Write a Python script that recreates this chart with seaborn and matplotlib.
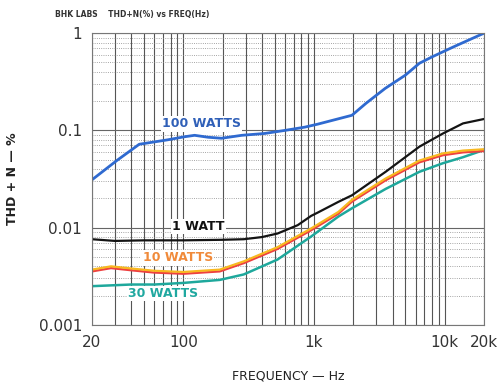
import matplotlib
matplotlib.use('Agg')
import matplotlib.pyplot as plt
import matplotlib.patheffects as pe
from matplotlib.ticker import FixedLocator, FixedFormatter, LogLocator, NullFormatter
import seaborn as sns
import pandas as pd

# THD+N vs frequency
freq_100w = [20, 31, 46, 76, 102, 122, 155, 196, 280, 420, 600, 850, 1070, 1950, 2500, 3500, 5000, 6400, 8000, 11600, 20000]
thd_100w = [0.031, 0.049, 0.072, 0.080, 0.086, 0.089, 0.085, 0.083, 0.089, 0.093, 0.100, 0.108, 0.116, 0.143, 0.19, 0.27, 0.37, 0.49, 0.57, 0.72, 1.0]

freq_1w = [20, 30, 50, 100, 200, 290, 400, 526, 750, 950, 1070, 1535, 1950, 3530, 6400, 9700, 13800, 20000]
thd_1w = [0.0076, 0.0073, 0.0074, 0.0074, 0.0075, 0.0076, 0.0080, 0.0087, 0.0106, 0.0132, 0.0143, 0.0184, 0.0215, 0.0375, 0.068, 0.093, 0.118, 0.131]

freq_10w = [20, 28, 40, 60, 100, 190, 290, 526, 950, 1535, 1950, 3530, 6400, 9700, 13800, 20000]
thd_10w = [0.0037, 0.0040, 0.0038, 0.0036, 0.0035, 0.0037, 0.0045, 0.0063, 0.0098, 0.0145, 0.0193, 0.032, 0.049, 0.058, 0.062, 0.064]

freq_30w = [20, 40, 60, 100, 190, 290, 526, 950, 1535, 1950, 3530, 6400, 9700, 13800, 20000]
thd_30w = [0.0025, 0.0026, 0.0026, 0.0027, 0.0029, 0.0033, 0.0047, 0.0081, 0.0130, 0.0158, 0.025, 0.0375, 0.046, 0.053, 0.063]

x_ticks = [20, 100, 1000, 10000, 20000]
x_tick_labels = ['20', '100', '1k', '10k', '20k']
y_ticks = [0.001, 0.01, 0.1, 1]
y_tick_labels = ['0.001', '0.01', '0.1', '1']

sns.set_style('white')
plt.rcParams['font.family'] = ['DejaVu Sans']

fig = plt.figure(figsize=(4.97, 3.90), dpi=100)
ax = fig.add_axes([0.185, 0.167, 0.789, 0.748])
ax.set_xscale('log')
ax.set_yscale('log')

df100 = pd.DataFrame({'f': freq_100w, 'thd': thd_100w})
df1 = pd.DataFrame({'f': freq_1w, 'thd': thd_1w})
df10 = pd.DataFrame({'f': freq_10w, 'thd': thd_10w})
df30 = pd.DataFrame({'f': freq_30w, 'thd': thd_30w})

sns.lineplot(data=df100, x='f', y='thd', ax=ax, color='#2f6ad0', lw=2.0)
sns.lineplot(data=df1, x='f', y='thd', ax=ax, color='#141414', lw=1.6)
sns.lineplot(data=df30, x='f', y='thd', ax=ax, color='#1ea89c', lw=1.8)
sns.lineplot(data=df10, x='f', y='thd', ax=ax, color='#f8b820', lw=1.6,
             path_effects=[pe.SimpleLineShadow(offset=(0, -1.3), shadow_color='#ee4040', alpha=1.0),
                           pe.Normal()])

ax.set_xlim(20, 20000)
ax.set_ylim(0.001, 1)

# grid like graph paper
ax.xaxis.set_minor_locator(LogLocator(base=10, subs=range(2, 10)))
ax.yaxis.set_minor_locator(LogLocator(base=10, subs=range(2, 10)))
ax.xaxis.set_minor_formatter(NullFormatter())
ax.yaxis.set_minor_formatter(NullFormatter())
ax.grid(True, axis='x', which='both', color='#555555', lw=0.8)
ax.grid(True, axis='y', which='major', color='#666666', lw=0.8)
ax.grid(True, axis='y', which='minor', color='#888888', lw=0.6, ls=':')
ax.set_axisbelow(True)

ax.xaxis.set_major_locator(FixedLocator(x_ticks))
ax.xaxis.set_major_formatter(FixedFormatter(x_tick_labels))
ax.yaxis.set_major_locator(FixedLocator(y_ticks))
ax.yaxis.set_major_formatter(FixedFormatter(y_tick_labels))
ax.tick_params(which='both', length=0, labelsize=11, colors='#333333', pad=7)

for s in ax.spines.values():
    s.set_color('#777777')
    s.set_linewidth(0.8)

ax.set_xlabel('FREQUENCY — Hz', fontsize=9, color='#222222', labelpad=14)
ax.set_ylabel('THD + N — %', fontsize=9, fontweight='bold', color='#222222', labelpad=14)

# curve labels, on white patches over the grid
box = dict(facecolor='white', edgecolor='none', pad=1.0)
ax.text(138, 0.117, '100 WATTS', color='#3060b8', fontsize=9, fontweight='bold',
        ha='center', va='center', bbox=box)
ax.text(131, 0.0103, '1 WATT', color='#111111', fontsize=9, fontweight='bold',
        ha='center', va='center', bbox=box)
ax.text(91, 0.0049, '10 WATTS', color='#f08a3a', fontsize=9, fontweight='bold',
        ha='center', va='center', bbox=box)
ax.text(70, 0.0021, '30 WATTS', color='#20a8a0', fontsize=9, fontweight='bold',
        ha='center', va='center', bbox=box)

fig.text(0.11, 0.962, 'BHK LABS    THD+N(%) vs FREQ(Hz)', fontsize=5.5, fontweight='bold',
         color='#333333', ha='left', va='center')

plt.savefig('out.png', dpi=100)
